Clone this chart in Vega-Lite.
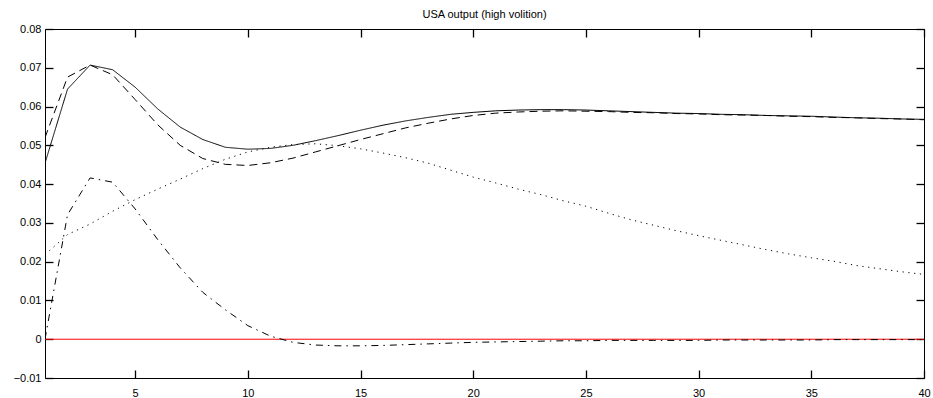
{
  "$schema": "https://vega.github.io/schema/vega-lite/v6.json",
  "width": 879,
  "height": 349,
  "autosize": {"type": "none"},
  "padding": {"left": 45, "top": 29, "right": 9, "bottom": 20},
  "background": "white",
  "title": {"text": "USA output (high volition)", "fontSize": 11, "fontWeight": "normal", "font": "Liberation Sans", "color": "black", "offset": 3},
  "config": {
    "view": {"stroke": "black", "strokeWidth": 1},
    "axis": {"domain": false, "grid": false, "labelFont": "Liberation Sans", "labelFontSize": 11, "labelColor": "black", "title": null, "zindex": 1,
             "ticks": true, "tickSize": 8, "offset": -8, "tickColor": "#000000", "tickOpacity": 1, "tickWidth": 1.3}
  },
  "datasets": {
    "series": [
      {"t":1,"v":0.0454,"s":"total"},{"t":2,"v":0.0645,"s":"total"},{"t":3,"v":0.0707,"s":"total"},{"t":4,"v":0.0695,"s":"total"},{"t":5,"v":0.0650,"s":"total"},
      {"t":6,"v":0.0594,"s":"total"},{"t":7,"v":0.0547,"s":"total"},{"t":8,"v":0.0515,"s":"total"},{"t":9,"v":0.0495,"s":"total"},{"t":10,"v":0.0490,"s":"total"},
      {"t":11,"v":0.0492,"s":"total"},{"t":12,"v":0.0500,"s":"total"},{"t":13,"v":0.0512,"s":"total"},{"t":14,"v":0.0525,"s":"total"},{"t":15,"v":0.0539,"s":"total"},
      {"t":16,"v":0.0552,"s":"total"},{"t":17,"v":0.0563,"s":"total"},{"t":18,"v":0.0572,"s":"total"},{"t":19,"v":0.0580,"s":"total"},{"t":20,"v":0.0585,"s":"total"},
      {"t":21,"v":0.0589,"s":"total"},{"t":22,"v":0.0591,"s":"total"},{"t":23,"v":0.0592,"s":"total"},{"t":24,"v":0.0592,"s":"total"},{"t":25,"v":0.0591,"s":"total"},
      {"t":26,"v":0.0589,"s":"total"},{"t":27,"v":0.0587,"s":"total"},{"t":28,"v":0.0585,"s":"total"},{"t":29,"v":0.0583,"s":"total"},{"t":30,"v":0.0582,"s":"total"},
      {"t":31,"v":0.0580,"s":"total"},{"t":32,"v":0.0579,"s":"total"},{"t":33,"v":0.0577,"s":"total"},{"t":34,"v":0.0576,"s":"total"},{"t":35,"v":0.0575,"s":"total"},
      {"t":36,"v":0.0573,"s":"total"},{"t":37,"v":0.0571,"s":"total"},{"t":38,"v":0.0570,"s":"total"},{"t":39,"v":0.0568,"s":"total"},{"t":40,"v":0.0567,"s":"total"},

      {"t":1,"v":0.0520,"s":"dashed"},{"t":2,"v":0.0676,"s":"dashed"},{"t":3,"v":0.0707,"s":"dashed"},{"t":4,"v":0.0682,"s":"dashed"},{"t":5,"v":0.0618,"s":"dashed"},
      {"t":6,"v":0.0553,"s":"dashed"},{"t":7,"v":0.0500,"s":"dashed"},{"t":8,"v":0.0466,"s":"dashed"},{"t":9,"v":0.0451,"s":"dashed"},{"t":10,"v":0.0448,"s":"dashed"},
      {"t":11,"v":0.0455,"s":"dashed"},{"t":12,"v":0.0467,"s":"dashed"},{"t":13,"v":0.0483,"s":"dashed"},{"t":14,"v":0.0499,"s":"dashed"},{"t":15,"v":0.0515,"s":"dashed"},
      {"t":16,"v":0.0530,"s":"dashed"},{"t":17,"v":0.0545,"s":"dashed"},{"t":18,"v":0.0557,"s":"dashed"},{"t":19,"v":0.0568,"s":"dashed"},{"t":20,"v":0.0577,"s":"dashed"},
      {"t":21,"v":0.0583,"s":"dashed"},{"t":22,"v":0.0586,"s":"dashed"},{"t":23,"v":0.0588,"s":"dashed"},{"t":24,"v":0.0589,"s":"dashed"},{"t":25,"v":0.0588,"s":"dashed"},
      {"t":26,"v":0.0587,"s":"dashed"},{"t":27,"v":0.0585,"s":"dashed"},{"t":28,"v":0.0584,"s":"dashed"},{"t":29,"v":0.0582,"s":"dashed"},{"t":30,"v":0.0581,"s":"dashed"},
      {"t":31,"v":0.0579,"s":"dashed"},{"t":32,"v":0.0578,"s":"dashed"},{"t":33,"v":0.0577,"s":"dashed"},{"t":34,"v":0.0575,"s":"dashed"},{"t":35,"v":0.0574,"s":"dashed"},
      {"t":36,"v":0.0572,"s":"dashed"},{"t":37,"v":0.0571,"s":"dashed"},{"t":38,"v":0.0569,"s":"dashed"},{"t":39,"v":0.0568,"s":"dashed"},{"t":40,"v":0.0566,"s":"dashed"},

      {"t":1,"v":0.0218,"s":"dotted"},{"t":2,"v":0.0270,"s":"dotted"},{"t":3,"v":0.0297,"s":"dotted"},{"t":4,"v":0.0330,"s":"dotted"},{"t":5,"v":0.0360,"s":"dotted"},
      {"t":6,"v":0.0387,"s":"dotted"},{"t":7,"v":0.0413,"s":"dotted"},{"t":8,"v":0.0440,"s":"dotted"},{"t":9,"v":0.0464,"s":"dotted"},{"t":10,"v":0.0483,"s":"dotted"},
      {"t":11,"v":0.0495,"s":"dotted"},{"t":12,"v":0.0502,"s":"dotted"},{"t":13,"v":0.0504,"s":"dotted"},{"t":14,"v":0.0499,"s":"dotted"},{"t":15,"v":0.0491,"s":"dotted"},
      {"t":16,"v":0.0480,"s":"dotted"},{"t":17,"v":0.0468,"s":"dotted"},{"t":18,"v":0.0454,"s":"dotted"},{"t":19,"v":0.0436,"s":"dotted"},{"t":20,"v":0.0418,"s":"dotted"},
      {"t":21,"v":0.0403,"s":"dotted"},{"t":22,"v":0.0387,"s":"dotted"},{"t":23,"v":0.0373,"s":"dotted"},{"t":24,"v":0.0357,"s":"dotted"},{"t":25,"v":0.0343,"s":"dotted"},
      {"t":26,"v":0.0325,"s":"dotted"},{"t":27,"v":0.0308,"s":"dotted"},{"t":28,"v":0.0294,"s":"dotted"},{"t":29,"v":0.0280,"s":"dotted"},{"t":30,"v":0.0267,"s":"dotted"},
      {"t":31,"v":0.0255,"s":"dotted"},{"t":32,"v":0.0243,"s":"dotted"},{"t":33,"v":0.0231,"s":"dotted"},{"t":34,"v":0.0220,"s":"dotted"},{"t":35,"v":0.0210,"s":"dotted"},
      {"t":36,"v":0.0201,"s":"dotted"},{"t":37,"v":0.0190,"s":"dotted"},{"t":38,"v":0.0182,"s":"dotted"},{"t":39,"v":0.0174,"s":"dotted"},{"t":40,"v":0.0167,"s":"dotted"},

      {"t":1,"v":0.0000,"s":"dashdot"},{"t":2,"v":0.0321,"s":"dashdot"},{"t":3,"v":0.0416,"s":"dashdot"},{"t":4,"v":0.0405,"s":"dashdot"},{"t":5,"v":0.0336,"s":"dashdot"},
      {"t":6,"v":0.0257,"s":"dashdot"},{"t":7,"v":0.0184,"s":"dashdot"},{"t":8,"v":0.0121,"s":"dashdot"},{"t":9,"v":0.0076,"s":"dashdot"},{"t":10,"v":0.0035,"s":"dashdot"},
      {"t":11,"v":0.0008,"s":"dashdot"},{"t":12,"v":-0.0008,"s":"dashdot"},{"t":13,"v":-0.0015,"s":"dashdot"},{"t":14,"v":-0.0017,"s":"dashdot"},{"t":15,"v":-0.0017,"s":"dashdot"},
      {"t":16,"v":-0.0016,"s":"dashdot"},{"t":17,"v":-0.0014,"s":"dashdot"},{"t":18,"v":-0.0012,"s":"dashdot"},{"t":19,"v":-0.0010,"s":"dashdot"},{"t":20,"v":-0.0008,"s":"dashdot"},
      {"t":21,"v":-0.0007,"s":"dashdot"},{"t":22,"v":-0.0006,"s":"dashdot"},{"t":23,"v":-0.0005,"s":"dashdot"},{"t":24,"v":-0.0004,"s":"dashdot"},{"t":25,"v":-0.0004,"s":"dashdot"},
      {"t":26,"v":-0.0003,"s":"dashdot"},{"t":27,"v":-0.0003,"s":"dashdot"},{"t":28,"v":-0.0003,"s":"dashdot"},{"t":29,"v":-0.0003,"s":"dashdot"},{"t":30,"v":-0.0003,"s":"dashdot"},
      {"t":31,"v":-0.0002,"s":"dashdot"},{"t":32,"v":-0.0002,"s":"dashdot"},{"t":33,"v":-0.0002,"s":"dashdot"},{"t":34,"v":-0.0002,"s":"dashdot"},{"t":35,"v":-0.0002,"s":"dashdot"},
      {"t":36,"v":-0.0001,"s":"dashdot"},{"t":37,"v":-0.0001,"s":"dashdot"},{"t":38,"v":-0.0001,"s":"dashdot"},{"t":39,"v":-0.0001,"s":"dashdot"},{"t":40,"v":-0.0001,"s":"dashdot"}
    ],
    "zero": [{"t":1,"v":0},{"t":40,"v":0}]
  },
  "layer": [
    {
      "data": {"name": "zero"},
      "mark": {"type": "line", "color": "#ff0000", "strokeWidth": 1, "clip": true},
      "encoding": {
        "x": {"field": "t", "type": "quantitative", "scale": {"domain": [1, 40], "nice": false, "zero": false},
              "axis": {"orient": "bottom", "values": [5,10,15,20,25,30,35,40], "labelPadding": 9, "labelFlush": false, "tickColor": "#000000", "tickWidth": 1.3}},
        "y": {"field": "v", "type": "quantitative", "scale": {"domain": [-0.01, 0.08], "nice": false, "zero": false},
              "axis": {"orient": "left", "values": [-0.01,0,0.01,0.02,0.03,0.04,0.05,0.06,0.07,0.08], "labelPadding": 4, "format": ".2~f", "labelFlush": false, "tickColor": "#000000", "tickWidth": 1.3}}
      }
    },
    {
      "data": {"name": "series"},
      "mark": {"type": "line", "color": "black", "strokeWidth": 1, "clip": true},
      "encoding": {
        "x": {"field": "t", "type": "quantitative", "axis": {"orient": "top", "values": [5,10,15,20,25,30,35,40], "labels": false, "tickColor": "#000000", "tickWidth": 1.3}},
        "y": {"field": "v", "type": "quantitative", "axis": {"orient": "right", "values": [-0.01,0,0.01,0.02,0.03,0.04,0.05,0.06,0.07,0.08], "labels": false, "tickColor": "#000000", "tickWidth": 1.3}},
        "detail": {"field": "s", "type": "nominal"},
        "strokeDash": {"field": "s", "type": "nominal", "legend": null,
          "scale": {"domain": ["total","dashed","dotted","dashdot"], "range": [[1,0],[8,5],[1.2,4.6],[7,5,1.5,5]]}}
      }
    }
  ],
  "resolve": {"axis": {"x": "independent", "y": "independent"}}
}
